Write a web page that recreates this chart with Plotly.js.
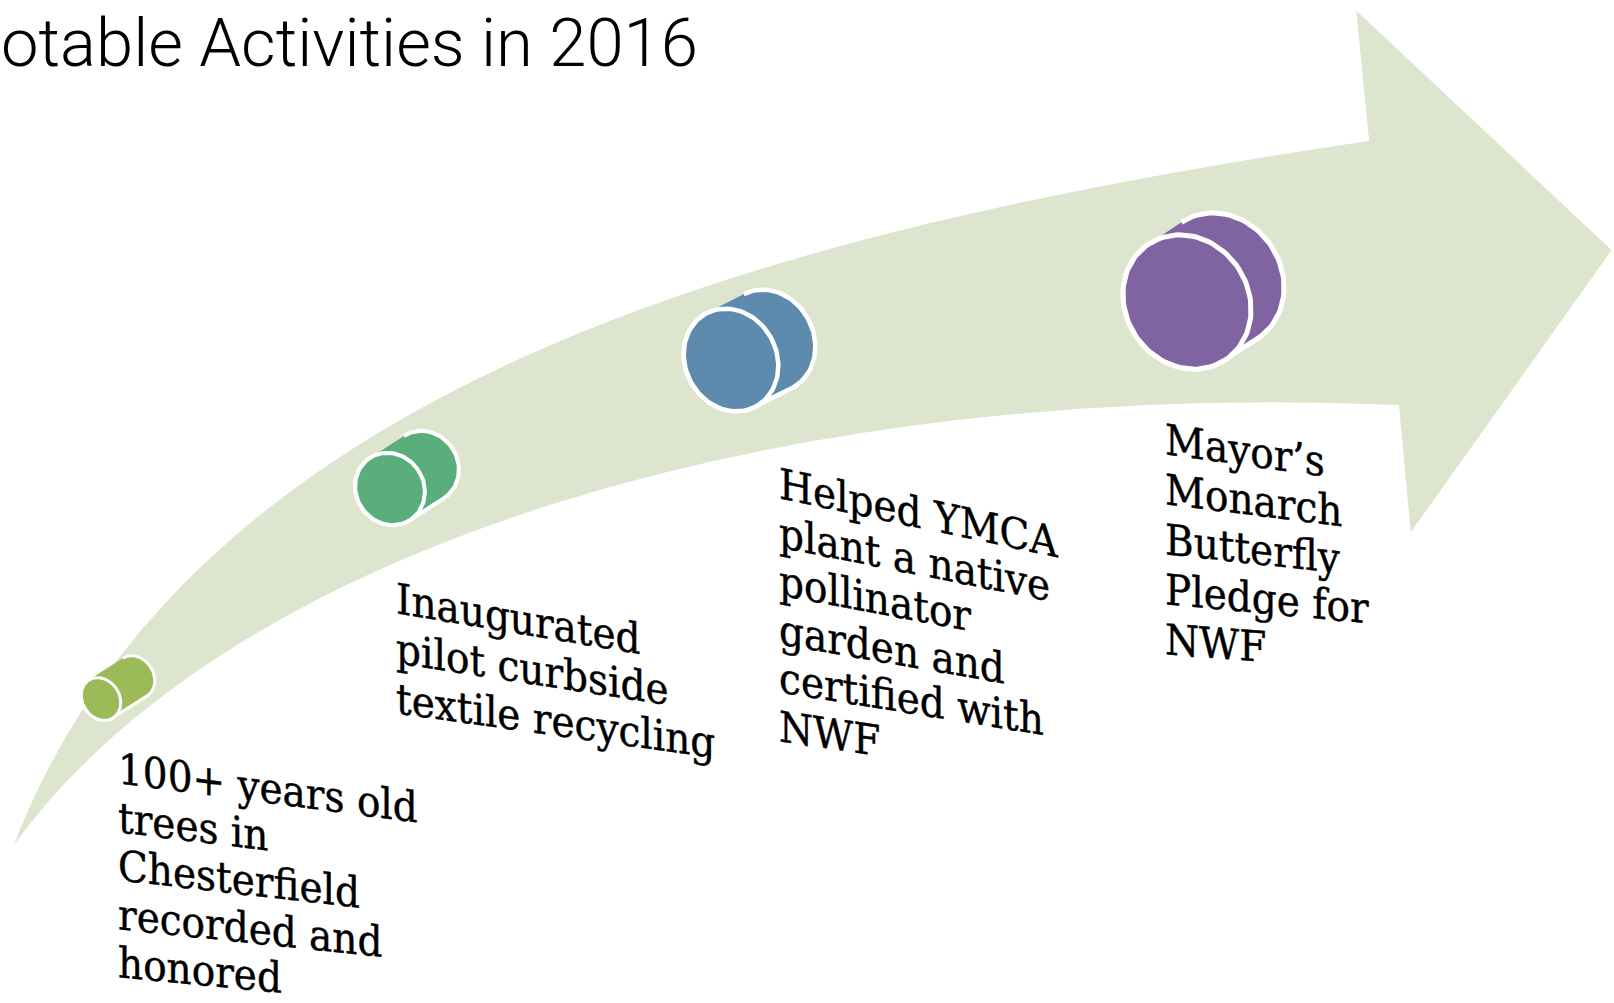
<!DOCTYPE html>
<html><head><meta charset="utf-8">
<script src="https://cdn.plot.ly/plotly-3.0.1.min.js"></script>
<style>html,body{margin:0;padding:0;background:#fff;overflow:hidden}#chart{width:1614px;height:1003px}</style>
</head><body><div id="chart"></div>
<script>
// ---------- data ----------
// the slide's title is cropped at the left edge; only this part is visible
const titleText = "otable Activities in 2016";
const steps = [1, 2, 3, 4];
const activities = [
  "100+ years old<br>trees in<br>Chesterfield<br>recorded and<br>honored",
  "Inaugurated<br>pilot curbside<br>textile recycling",
  "Helped YMCA<br>plant a native<br>pollinator<br>garden and<br>certified with<br>NWF",
  "Mayor\u2019s<br>Monarch<br>Butterfly<br>Pledge for<br>NWF"
];

// ---------- layout / style (not data) ----------
const W = 1614, H = 1003;
const STYLE = {
  arrowFill: "#dee5cf",
  colors: ["#9bbb59", "#5aae7c", "#5e8aad", "#8064a2"],
  serif: "DejaVu Serif",
  titleFont: "Roboto"
};
// cylinder placement: front-face centre, outer semi-axes (a along depth, b across), depth offset, border
const CYL = [
  {cx: 101, cy: 699, a: 20, b: 24, dx: 34, dy: -22, bw: 3},
  {cx: 390, cy: 489, a: 36, b: 39, dx: 34, dy: -22, bw: 4},
  {cx: 731, cy: 360, a: 48, b: 55, dx: 37, dy: -19, bw: 4.5},
  {cx: 1187, cy: 302, a: 64, b: 72, dx: 33, dy: -22, bw: 5}
];
// label blocks: left x, first baseline y, line step, skew (deg) of first and last line
const LBL = [
  {x: 116, y: 782, dy: 48.5, s0: 7.5, s1: 5.5, size: 39},
  {x: 394, y: 612, dy: 50, s0: 9.5, s1: 8, size: 39},
  {x: 777, y: 497, dy: 48.5, s0: 12, s1: 8.5, size: 39},
  {x: 1163, y: 453, dy: 50, s0: 8, s1: 4.5, size: 39}
];
const TEXT_STRETCH = 1.09;

const arrowPath = "M 10,852 C 185,385 760,230 1368,140 L 1355,8 L 1613,250 L 1410,535 L 1398,406 C 800,380 230,540 10,852 Z";

function cylinderPaths(c) {
  const L = Math.hypot(c.dx, c.dy);
  const ux = c.dx / L, uy = c.dy / L, vx = -uy, vy = ux;
  const a = c.a - c.bw / 2, b = c.b - c.bw / 2;
  const pt = (t, shift) => [c.cx + ux * a * Math.cos(t) + vx * b * Math.sin(t) + (shift ? c.dx : 0),
                            c.cy + uy * a * Math.cos(t) + vy * b * Math.sin(t) + (shift ? c.dy : 0)];
  const hull = [], face = [];
  const N = 60;
  for (let i = 0; i <= N; i++) { const t = -Math.PI / 2 + Math.PI * i / N; hull.push(pt(t, true)); }
  for (let i = 0; i <= N; i++) { const t = Math.PI / 2 + Math.PI * i / N; hull.push(pt(t, false)); }
  for (let i = 0; i <= 2 * N; i++) { const t = Math.PI * i / N; face.push(pt(t, false)); }
  return {hull, face};
}

const traces = [];
steps.forEach((s, i) => {
  const p = cylinderPaths(CYL[i]);
  [p.hull, p.face].forEach(poly => {
    traces.push({
      type: "scatter", mode: "lines", fill: "toself",
      x: poly.map(q => q[0]), y: poly.map(q => q[1]),
      fillcolor: STYLE.colors[i],
      line: {color: "#ffffff", width: CYL[i].bw},
      hoverinfo: "skip", showlegend: false
    });
  });
});

const annotations = [];
const skews = [];
annotations.push({
  xref: "paper", yref: "paper", x: -1 / W, y: 1 - 43 / H,
  xanchor: "left", yanchor: "middle", showarrow: false,
  text: titleText,
  font: {family: STYLE.titleFont, size: 67, color: "#000", weight: 300}
});
skews.push(0);

steps.forEach((s, i) => {
  const lines = activities[i].split("<br>");
  const cfg = LBL[i];
  lines.forEach((ln, j) => {
    annotations.push({
      xref: "x", yref: "y", x: cfg.x, y: cfg.y + j * cfg.dy - 0.346 * cfg.size,
      xanchor: "left", yanchor: "middle", showarrow: false,
      text: ln,
      font: {family: STYLE.serif, size: cfg.size, color: "#000"}
    });
    skews.push(cfg.s0 + (cfg.s1 - cfg.s0) * (lines.length > 1 ? j / (lines.length - 1) : 0));
  });
});

const layout = {
  width: W, height: H,
  margin: {l: 0, r: 0, t: 0, b: 0, pad: 0},
  paper_bgcolor: "#ffffff", plot_bgcolor: "#ffffff",
  xaxis: {range: [0, W], visible: false, fixedrange: true},
  yaxis: {range: [H, 0], visible: false, fixedrange: true},
  showlegend: false, hovermode: false,
  shapes: [{type: "path", xref: "x", yref: "y", path: arrowPath,
            fillcolor: STYLE.arrowFill, line: {color: "#ffffff", width: 2}, layer: "below"}],
  annotations: annotations
};

Plotly.newPlot("chart", traces, layout, {displayModeBar: false, staticPlot: true}).then(() => {
  document.querySelectorAll("#chart .annotation").forEach(g => {
    const idx = +g.getAttribute("data-index");
    const k = skews[idx];
    if (!k) return;
    const t = g.querySelector("text.annotation-text");
    if (!t) return;
    t.style.transformBox = "fill-box";
    t.style.transformOrigin = "0% 50%";
    t.style.transform = "skewY(" + k + "deg) scaleY(" + TEXT_STRETCH + ")";
    t.style.stroke = "#000";
    t.style.strokeWidth = "0.4px";
  });
});
</script>
</body></html>
